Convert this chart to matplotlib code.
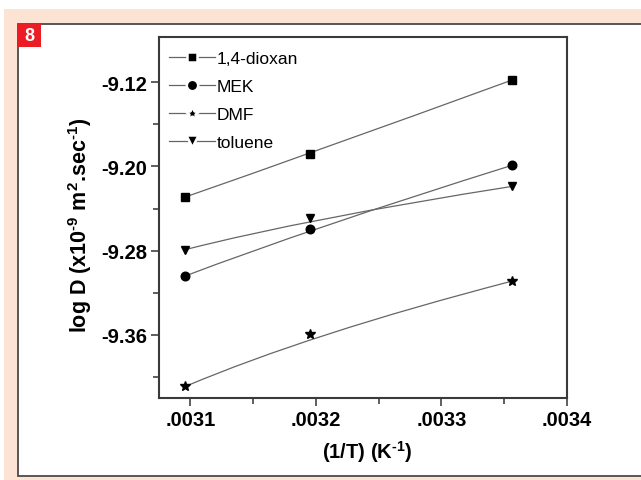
import matplotlib
matplotlib.use("Agg")
from matplotlib import pyplot as plt
from matplotlib.path import Path
from matplotlib.patches import PathPatch, Rectangle
from matplotlib.lines import Line2D
from matplotlib.ticker import FixedLocator, FuncFormatter

plt.rcParams['font.family'] = ['Liberation Sans', 'DejaVu Sans']
plt.rcParams['mathtext.fontset'] = 'custom'
plt.rcParams['mathtext.rm'] = 'Liberation Sans:bold'
plt.rcParams['mathtext.bf'] = 'Liberation Sans:bold'

# 1/T values (K^-1) for the three temperatures
inv_t = [0.003096, 0.003195, 0.003356]

# log D for every solvent
dioxan = [-9.229, -9.188, -9.118]
mek = [-9.304, -9.259, -9.199]
dmf = [-9.409, -9.359, -9.309]
toluene = [-9.279, -9.249, -9.219]

names = ['1,4-dioxan', 'MEK', 'DMF', 'toluene']
series = [dioxan, mek, dmf, toluene]
markers = ['s', 'o', '*', 'v']
sizes = [5.4, 6.2, 7.8, 6.4]

x_major = [0.0031, 0.0032, 0.0033, 0.0034]
x_minor = [0.00315, 0.00325, 0.00335]
y_major = [-9.36, -9.28, -9.20, -9.12]
y_minor = [-9.40, -9.32, -9.24, -9.16]

W, H = 641, 481
fig = plt.figure(figsize=(W / 100, H / 100), dpi=100)

# page background, white panel and the red figure number
fig.add_artist(Rectangle((4 / W, 0), 1, (H - 10) / H, transform=fig.transFigure,
                         facecolor='#fde3d4', edgecolor='none', zorder=-3))
fig.add_artist(Rectangle((18 / W, 4 / H), 1, (477 - 25) / H, transform=fig.transFigure,
                         facecolor='white', edgecolor='#4a4a4a', lw=1.3, zorder=-2))
fig.add_artist(Rectangle((18 / W, (H - 48) / H), 23 / W, 23 / H, transform=fig.transFigure,
                         facecolor='#ec1c24', edgecolor='none', zorder=-1))
fig.text(29.5 / W, (H - 36.5) / H, '8', color='white', fontsize=13, fontweight='bold',
         ha='center', va='center')

ax = fig.add_axes([159 / W, (H - 399) / H, (567 - 159) / W, (399 - 38) / H])

for ys, m, ms in zip(series, markers, sizes):
    # smooth B-spline style connection through the three points
    verts = list(zip(inv_t, ys))
    path = Path(verts, [Path.MOVETO, Path.CURVE3, Path.CURVE3])
    ax.add_patch(PathPatch(path, facecolor='none', edgecolor='#666666', lw=0.9, zorder=2))
    ax.plot(inv_t, ys, linestyle='none', marker=m, markersize=ms, color='black', zorder=3)

ax.set_xlim(0.003075, 0.0034)
ax.set_ylim(-9.42, -9.077)

ax.xaxis.set_major_locator(FixedLocator(x_major))
ax.xaxis.set_minor_locator(FixedLocator(x_minor))
ax.yaxis.set_major_locator(FixedLocator(y_major))
ax.yaxis.set_minor_locator(FixedLocator(y_minor))
ax.xaxis.set_major_formatter(FuncFormatter(lambda v, p: ('%.4f' % v).lstrip('0')))
ax.yaxis.set_major_formatter(FuncFormatter(lambda v, p: '%.2f' % v))

ax.tick_params(which='major', direction='out', length=6, width=1.1, color='#333333',
               labelsize=14.5, pad=2.5)
ax.tick_params(which='minor', direction='out', length=4, width=1.1, color='#333333')
for lab in ax.get_xticklabels() + ax.get_yticklabels():
    lab.set_fontweight('bold')

for side in ['top', 'right', 'bottom', 'left']:
    ax.spines[side].set_color('#3a3a3a')
    ax.spines[side].set_linewidth(1.5)

ax.set_xlabel('(1/T) (K$^{\\text{-1}}$)', fontsize=14.5, fontweight='bold')
ax.set_ylabel('log D (x10$^{\\text{-9}}$ m$^{\\text{2}}$.sec$^{\\text{-1}}$)',
              fontsize=15.5, fontweight='bold')
ax.xaxis.set_label_coords(0.51, -0.11)
ax.yaxis.set_label_coords(-0.16, 0.48)

# legend handles: line - marker - line, with a small gap round the marker
legend_sizes = [7.5, 8.2, 10.5, 8.6]
handles = [Line2D([], [], color='#666666', lw=0.9, marker=m, markersize=ms,
                  markerfacecolor='black', markeredgecolor='white', markeredgewidth=1.8)
           for m, ms in zip(markers, legend_sizes)]
ax.legend(handles, names, loc='upper left', bbox_to_anchor=(0.0245, 0.961),
          frameon=False, fontsize=12.5, handlelength=2.65, handletextpad=0.1,
          labelspacing=0.74, borderpad=0, borderaxespad=0)

plt.savefig('out.png', dpi=100)
